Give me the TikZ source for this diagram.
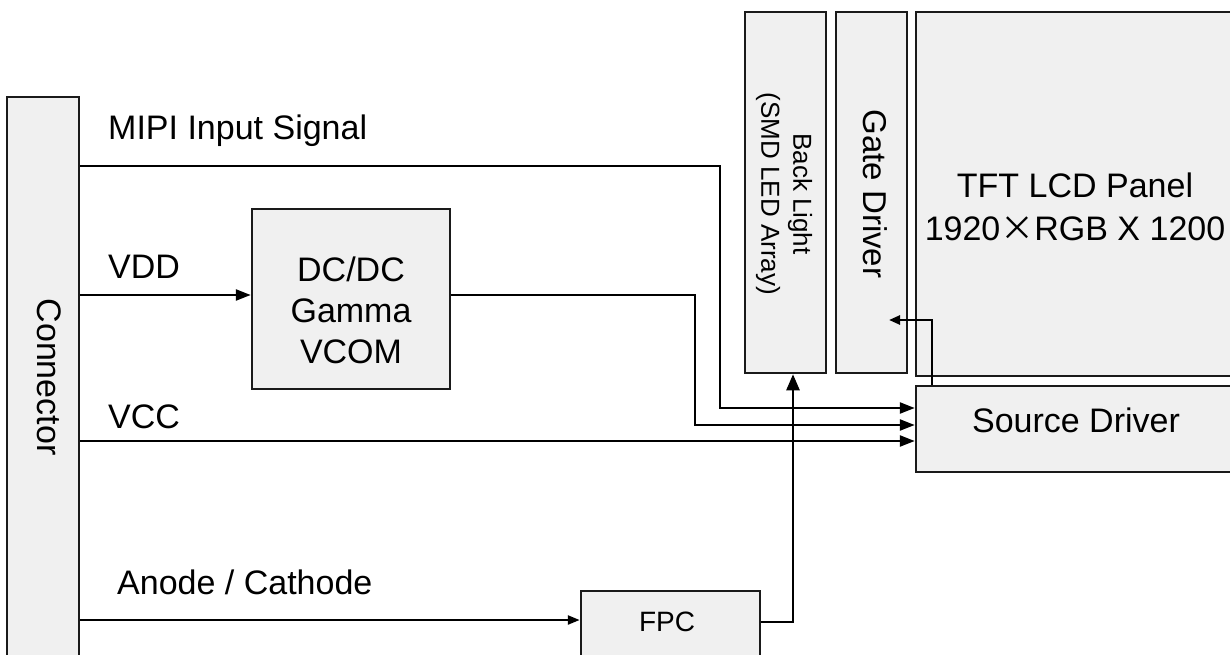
\documentclass[tikz,border=0pt]{standalone}
\usepackage{fontspec}
\setmainfont{Liberation Sans}
\newfontfamily\cjkfont{Noto Sans CJK SC}
\usetikzlibrary{arrows.meta}
\definecolor{blockfill}{HTML}{F0F0F0}
\definecolor{blockline}{HTML}{1A1A1A}
\tikzset{
  block/.style={draw=blockline, fill=blockfill, line width=2.5pt, inner sep=0pt},
  wire/.style={line width=2.4pt, draw=black},
  feed/.style={wire, -{Triangle[length=15pt,width=11pt]}},
  blocktext/.style={font=\fontsize{34}{41}\selectfont, align=center, inner sep=0pt},
  smalltext/.style={font=\fontsize{26}{32}\selectfont, align=center, inner sep=0pt},
  wirelabel/.style={font=\fontsize{34}{41}\selectfont, anchor=base west, inner sep=0pt}
}
\begin{document}
\begin{tikzpicture}[x=1pt,y=-1pt]
\useasboundingbox (0,0) rectangle (1230,655);

% --- Blocks ---
\node[block, minimum width=72pt, minimum height=568pt] (conn) at (43,381) {};
\node[block, minimum width=198pt, minimum height=180pt] (dcdc) at (351,299) {};
\node[block, minimum width=81pt, minimum height=361pt] (bl) at (785.5,192.5) {};
\node[block, minimum width=71pt, minimum height=361pt] (gate) at (871.5,192.5) {};
\node[block, minimum width=329pt, minimum height=364pt] (panel) at (1080.5,194) {};
\node[block, minimum width=329pt, minimum height=86pt] (src) at (1080.5,429) {};
\node[block, minimum width=179pt, minimum height=79pt] (fpc) at (670.5,630.5) {};

% Block texts
\node[blocktext, rotate=-90] (conntext) at (49,377) {Connector};
\node[blocktext] (dcdctext) at (351,310) {DC/DC\\Gamma\\VCOM};
\node[smalltext, rotate=-90] (bltext) at (784,194) {Back Light\\(SMD LED Array)};
\node[blocktext, font=\fontsize{33}{40}\selectfont, rotate=-90] (gatetext) at (875,194) {Gate Driver};
\node[blocktext, font=\fontsize{34}{43}\selectfont] (paneltext) at (1075,207) {TFT LCD Panel\\1920{\cjkfont ×}RGB X 1200};
\node[blocktext] (srctext) at (1076,420) {Source Driver};
\node[blocktext, font=\fontsize{28}{34}\selectfont] (fpctext) at (667,622) {FPC};

% --- Signal labels ---
\node[wirelabel] (mipilbl) at (108,140) {MIPI Input Signal};
\node[wirelabel] (vddlbl) at (108,278) {VDD};
\node[wirelabel] (vcclbl) at (108,428) {VCC};
\node[wirelabel] (anodelbl) at (117,594) {Anode / Cathode};

% --- Wires ---
\coordinate (gatein) at (889,320);
\draw[feed] (conn.east |- 0,166) -| (720,408) -- (src.west |- 0,408);
\draw[feed] (conn.east |- 0,295) -- (dcdc.west |- 0,295);
\draw[feed] (dcdc.east |- 0,295) -| (695,425) -- (src.west |- 0,425);
\draw[feed] (conn.east |- 0,441) -- (src.west |- 0,441);
\draw[wire, -{Triangle[length=12pt,width=9pt]}] (conn.east |- 0,620) -- (fpc.west |- 0,620);
\draw[wire, -{Triangle[length=16pt,width=13pt]}] (fpc.east |- 0,622) -| ([xshift=7.5pt]bl.south);
\draw[wire, -{Triangle[length=11pt,width=9pt]}] (src.north -| 932,0) |- (gatein);

\end{tikzpicture}
\end{document}
